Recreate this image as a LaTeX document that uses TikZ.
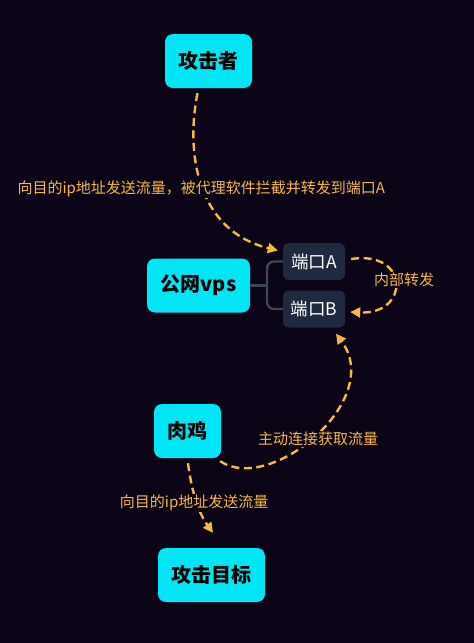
\documentclass[tikz,border=0pt]{standalone}
\usepackage{fontspec}
\setmainfont{Noto Sans CJK SC}
\usetikzlibrary{arrows.meta}
\definecolor{bgdark}{HTML}{0A0416}
\definecolor{hostcyan}{HTML}{00E6F4}
\definecolor{portnavy}{HTML}{1F2940}
\definecolor{flowgold}{HTML}{F4B843}
\definecolor{forkgray}{HTML}{3B4659}
\begin{document}
\begin{tikzpicture}[x=1pt, y=-1pt, >={Triangle[length=10pt, width=10pt]},
    hostbox/.style={fill=hostcyan, rounded corners=8pt, text=black, inner sep=0pt,
        minimum height=54pt, font=\bfseries\fontsize{20}{20}\selectfont},
    portbox/.style={fill=portnavy, rounded corners=6pt, text=white, inner sep=0pt,
        minimum width=62pt, minimum height=37pt, font=\fontsize{17.5}{17.5}\selectfont},
    flowline/.style={->, flowgold, line width=2.4pt, dash pattern=on 8pt off 4.5pt},
    flowlabel/.style={text=flowgold, fill=bgdark, inner sep=1pt,
        font=\fontsize{15}{15}\selectfont}]
    % Background
    \fill[bgdark] (0,0) rectangle (474,643);

    % Hosts
    \node[hostbox, minimum width=87pt] (attacker) at (208.5,61) {攻击者};
    \node[hostbox, minimum width=103pt] (vps) at (198.5,285.5) {公网vps};
    \node[hostbox, minimum width=67pt] (zombie) at (187.5,431) {肉鸡};
    \node[hostbox, minimum width=107pt] (target) at (211.5,575) {攻击目标};

    % Ports
    \node[portbox] (portA) at (314,261.5) {端口A};
    \node[portbox] (portB) at (314,309) {端口B};

    % Fork
    \coordinate (fork) at (267,285.5);
    \draw[forkgray, line width=2.4pt] (vps.east) -- (fork);
    \draw[forkgray, line width=2.4pt, rounded corners=7pt] (portA.west) -| (fork) |- (portB.west);

    % Flows
    \draw[flowline] ([shift={(-11,5)}]attacker.south)
        .. controls (186,150) and (195,230) .. ([shift={(-5,-11)}]portA.west)
        node[flowlabel, pos=0.5, xshift=-1pt, yshift=-3pt] {向目的ip地址发送流量，被代理软件拦截并转发到端口A};
    \draw[flowline] ([shift={(6,-2.5)}]portA.east)
        .. controls (410,250) and (410,315) .. ([shift={(5,3)}]portB.east)
        node[flowlabel, pos=0.5, xshift=9pt, yshift=3pt] {内部转发};
    \draw[flowline] ([shift={(0.5,5)}]zombie.south)
        .. controls (192,495) and (200,515) .. ([shift={(1.5,-15)}]target.north)
        node[flowlabel, pos=0.5, xshift=-3pt] {向目的ip地址发送流量};
    \draw[flowline] ([shift={(-1,3)}]zombie.south east)
        .. controls (270,495) and (385,400) .. ([shift={(22,6)}]portB.south)
        node[flowlabel, pos=0.5, xshift=3pt, yshift=-4pt] {主动连接获取流量};
\end{tikzpicture}
\end{document}
